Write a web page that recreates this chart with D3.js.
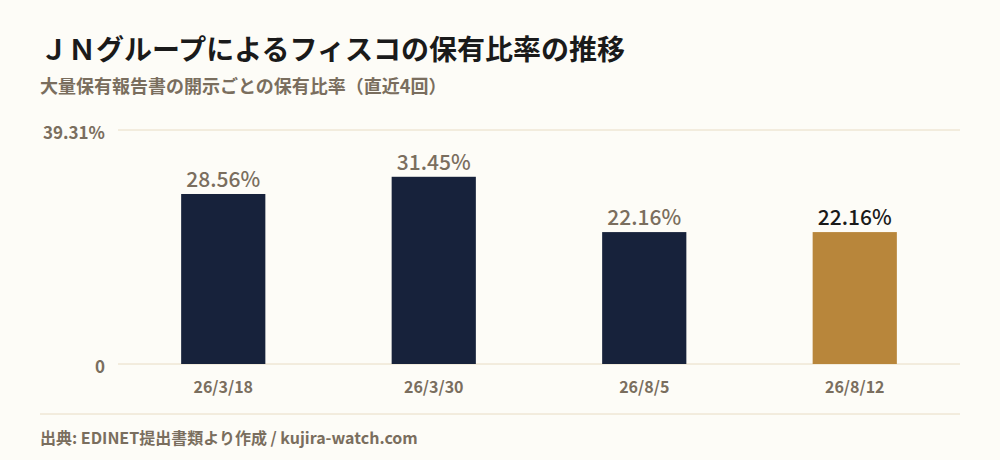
<!DOCTYPE html>
<html><head><meta charset="utf-8">
<script src="https://cdn.jsdelivr.net/npm/d3@7"></script>
<style>
html,body{margin:0;padding:0;background:#fdfcf7;}
svg{display:block;font-family:"Noto Sans CJK JP","Noto Sans",sans-serif;}
</style></head><body>
<svg id="c" width="1000" height="460"></svg>
<script>
const categories = ["26/3/18","26/3/30","26/8/5","26/8/12"];
const values = [28.56, 31.45, 22.16, 22.16];
const yTicks = [0, 39.31];
const yTickLabels = ["0", "39.31%"];
const title = "ＪＮグループによるフィスコの保有比率の推移";
const subtitle = "大量保有報告書の開示ごとの保有比率（直近4回）";
const source = "出典: EDINET提出書類より作成 / kujira-watch.com";

const svg = d3.select("#c");
svg.append("rect").attr("width",1000).attr("height",460).attr("fill","#fdfcf7");

const pLeft = 118, pRight = 960, pTop = 130, pBottom = 364;
const x = d3.scaleBand().domain(categories).range([pLeft, pRight]).paddingInner(0.6).paddingOuter(0.3);
const y = d3.scaleLinear().domain([0, 39.31]).range([pBottom, pTop]);

svg.append("text").attr("x",40).attr("y",60).attr("font-size",28).attr("font-weight",700)
  .attr("fill","#1a1a1a").text(title);
svg.append("text").attr("x",40).attr("y",93).attr("font-size",18).attr("font-weight",700)
  .attr("fill","#7a6e5e").text(subtitle);

// grid
svg.append("g").selectAll("line").data(yTicks).join("line")
  .attr("x1",pLeft).attr("x2",pRight).attr("y1",d=>y(d)).attr("y2",d=>y(d))
  .attr("stroke","#e8dcc4").attr("stroke-width",1);
svg.append("g").selectAll("text").data(yTicks).join("text")
  .attr("x",105).attr("y",d=>y(d)+3).attr("dy","0.35em").attr("text-anchor","end")
  .attr("font-size",17).attr("font-weight",700).attr("fill","#7a6e5e")
  .text((d,i)=>yTickLabels[i]);

const last = categories.length - 1;
svg.append("g").selectAll("rect").data(values).join("rect")
  .attr("x",(d,i)=>x(categories[i])).attr("width",x.bandwidth())
  .attr("y",d=>y(d)).attr("height",d=>y(0)-y(d))
  .attr("fill",(d,i)=>i===last?"#b8863b":"#17223b");

svg.append("g").selectAll("text").data(values).join("text")
  .attr("x",(d,i)=>x(categories[i])+x.bandwidth()/2).attr("y",d=>y(d)-7)
  .attr("text-anchor","middle").attr("font-size",21).attr("font-weight",500)
  .attr("fill",(d,i)=>i===last?"#1a1a1a":"#7a6e5e")
  .text(d=>d.toFixed(2)+"%");

svg.append("g").selectAll("text").data(categories).join("text")
  .attr("x",d=>x(d)+x.bandwidth()/2).attr("y",pBottom+23).attr("dy","0.35em")
  .attr("text-anchor","middle").attr("font-size",16).attr("font-weight",700)
  .attr("fill","#7a6e5e").text(d=>d);

svg.append("line").attr("x1",40).attr("x2",960).attr("y1",414).attr("y2",414)
  .attr("stroke","#e8dcc4").attr("stroke-width",1);
svg.append("text").attr("x",40).attr("y",438).attr("dy","0.35em").attr("font-size",16)
  .attr("font-weight",700).attr("fill","#7a6e5e").text(source);
</script></body></html>
